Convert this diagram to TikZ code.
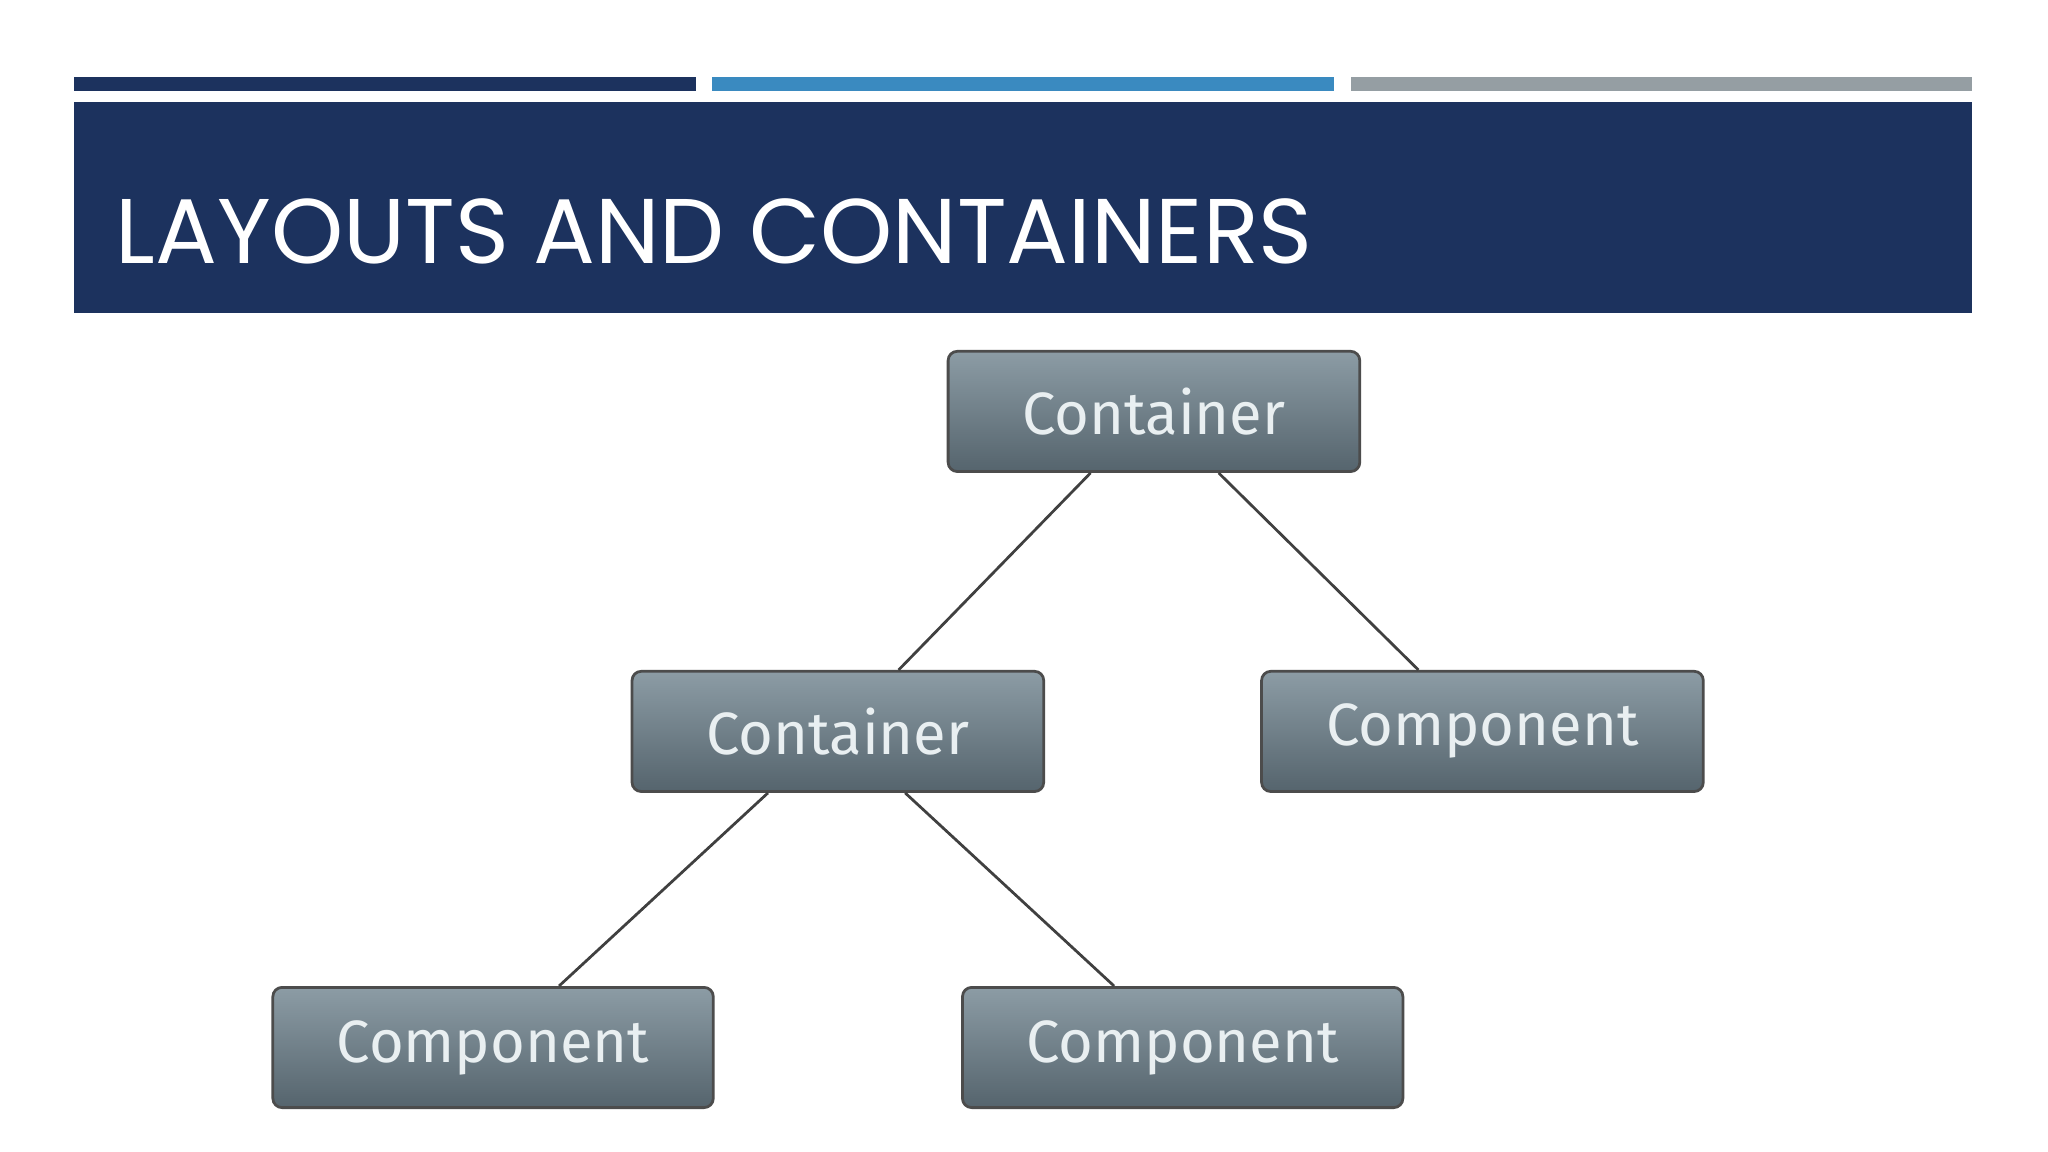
\documentclass[tikz,border=0pt]{standalone}
\usepackage{fontspec}
\setmainfont{Poppins}
\newfontfamily\boxfont{Fira Sans}
\begin{document}
\begin{tikzpicture}[x=0.01cm,y=-0.01cm,
  bx/.style={draw=black!70,line width=0.6pt,rounded corners=2pt,top color=boxtop,bottom color=boxbot,
    text=boxtxt,font=\boxfont\fontsize{13}{15}\selectfont,inner sep=0pt},
  ln/.style={draw=black!75,line width=0.6pt}]
\definecolor{navy}{HTML}{1C325E}
\definecolor{bblue}{HTML}{3A8AC0}
\definecolor{bgray}{HTML}{959EA3}
\definecolor{boxtop}{HTML}{8C9CA5}
\definecolor{boxbot}{HTML}{55646D}
\definecolor{boxtxt}{HTML}{E9EFF1}
\useasboundingbox (0,0) rectangle (1568,882);
\fill[white] (0,0) rectangle (1568,882);
\fill[navy] (57,59) rectangle (533,70);
\fill[bblue] (545,59) rectangle (1021,70);
\fill[bgray] (1034,59) rectangle (1510,70);
\fill[navy] (57,78) rectangle (1510,240);
\node[anchor=base west,text=white,font=\fontsize{20}{24}\selectfont,inner sep=0pt] (title) at (88,202) {LAYOUTS AND CONTAINERS};
\node[bx,minimum width=3.15cm,minimum height=0.92cm] (c1) at (883.5,315) {Container};
\node[bx,minimum width=3.15cm,minimum height=0.92cm] (c2) at (641.5,560) {Container};
\node[bx,minimum width=3.38cm,minimum height=0.92cm] (p1) at (1135,560) {Component};
\node[bx,minimum width=3.37cm,minimum height=0.92cm] (p2) at (377.5,802) {Component};
\node[bx,minimum width=3.37cm,minimum height=0.92cm] (p3) at (905.5,802) {Component};
\draw[ln] ([xshift=-0.485cm]c1.south) -- ([xshift=0.465cm]c2.north);
\draw[ln] ([xshift=0.495cm]c1.south) -- ([xshift=-0.49cm]p1.north);
\draw[ln] ([xshift=-0.535cm]c2.south) -- ([xshift=0.505cm]p2.north);
\draw[ln] ([xshift=0.515cm]c2.south) -- ([xshift=-0.525cm]p3.north);
\end{tikzpicture}
\end{document}
